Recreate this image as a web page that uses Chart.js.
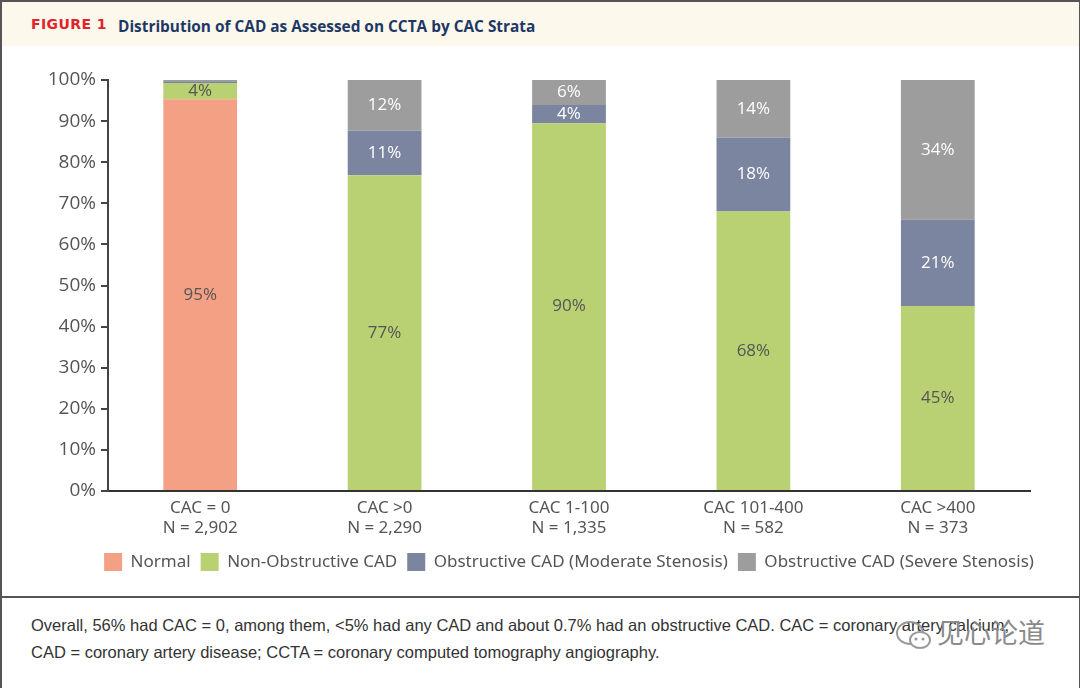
<!DOCTYPE html>
<html>
<head>
<meta charset="utf-8">
<script src="https://cdn.jsdelivr.net/npm/chart.js@4/dist/chart.umd.min.js"></script>
<style>
  html, body { margin: 0; padding: 0; background: #fff; }
  #frame { position: relative; width: 1080px; height: 688px; overflow: hidden; }
  #head {
    position: absolute; left: 0; top: 0; width: 1077px; height: 44px;
    border-top: 2px solid #555; border-left: 2px solid #555; border-right: 2px solid #555;
    background: #fdf8ec;
  }
  #head .fig { position: absolute; left: 29px; top: 14px; font: bold 14px "DejaVu Sans", sans-serif; letter-spacing: 0.4px; color: #e2232b; }
  #head .title { position: absolute; left: 116px; top: 14px; font: bold 15.4px "Open Sans", sans-serif; color: #1d3866; }
  #plot {
    position: absolute; left: 0; top: 46px; width: 1077px; height: 550px;
    border-left: 2px solid #555; border-right: 2px solid #555; border-bottom: 2px solid #555;
  }
  #caption {
    position: absolute; left: 0; top: 598px; width: 1077px; height: 100px;
    border-left: 2px solid #555; border-right: 2px solid #555;
    font: 16.5px "Liberation Sans", sans-serif; color: #333; line-height: 27px;
  }
  #caption p { margin: 14px 0 0 29px; }
  #mark { position: absolute; left: 895px; top: 612px; color: #8a8a8a; font: 27px "Noto Sans CJK SC", sans-serif; }
  #mark svg { vertical-align: middle; margin-right: 4px; }
</style>
</head>
<body>
<div id="frame">
  <div id="head">
    <span class="fig">FIGURE 1</span>
    <span class="title">Distribution of CAD as Assessed on CCTA by CAC Strata</span>
  </div>
  <div id="plot"><canvas id="chart" width="1077" height="550"></canvas></div>
  <div id="caption">
    <p>Overall, 56% had CAC = 0, among them, &lt;5% had any CAD and about 0.7% had an obstructive CAD. CAC = coronary artery calcium;<br>
    CAD = coronary artery disease; CCTA = coronary computed tomography angiography.</p>
  </div>
  <div id="mark">
    <svg width="38" height="34" viewBox="0 0 38 34"><ellipse cx="15" cy="14" rx="13" ry="11" fill="none" stroke="#999" stroke-width="2"/><ellipse cx="25" cy="21" rx="10" ry="8" fill="#fff" stroke="#999" stroke-width="2"/><circle cx="21" cy="20" r="1.5" fill="#999"/><circle cx="28" cy="20" r="1.5" fill="#999"/></svg>见心论道
  </div>
</div>
<script>
document.addEventListener('DOMContentLoaded', () => {
    // categories and series (percent of each CAC stratum)
    const categories = [['CAC = 0', 'N = 2,902'], ['CAC >0', 'N = 2,290'], ['CAC 1-100', 'N = 1,335'], ['CAC 101-400', 'N = 582'], ['CAC >400', 'N = 373']];
    const normal = [95.3, 0, 0, 0, 0];
    const nonObstructive = [4.0, 76.8, 89.5, 68, 45];
    const moderate = [0.4, 10.9, 4.4, 18, 21];
    const severe = [0.3, 12.3, 6.1, 14, 34];
    const yTicks = [0, 10, 20, 30, 40, 50, 60, 70, 80, 90, 100];

    const seriesNames = ['Normal', 'Non-Obstructive CAD', 'Obstructive CAD (Moderate Stenosis)', 'Obstructive CAD (Severe Stenosis)'];
    const seriesColors = ['#f3a084', '#b9d073', '#7c859f', '#9d9d9d'];
    const labelColors = ['#555', '#555', '#fff', '#fff'];

    const barLabels = {
        id: 'barLabels',
        afterDatasetsDraw(chart) {
            const ctx = chart.ctx;
            ctx.save();
            ctx.font = '17px "Open Sans", sans-serif';
            ctx.textAlign = 'center';
            ctx.textBaseline = 'middle';
            chart.data.datasets.forEach((ds, i) => {
                const meta = chart.getDatasetMeta(i);
                meta.data.forEach((bar, j) => {
                    const v = ds.data[j];
                    if (v < 3) return;
                    const mid = (bar.y + bar.base) / 2;
                    ctx.fillStyle = labelColors[i];
                    ctx.fillText(Math.round(v) + '%', bar.x, mid);
                });
            });
            ctx.restore();
        }
    };

    // legend sits centred under the plot area, not the whole canvas
    const centerLegend = {
        id: 'centerLegend',
        afterLayout(chart) {
            const l = chart.legend;
            const dx = (chart.chartArea.left + chart.chartArea.right) / 2 - (l.left + l.right) / 2;
            l.left += dx;
            l.right += dx;
        }
    };

    new Chart(document.getElementById('chart'), {
        type: 'bar',
        data: {
            labels: categories,
            datasets: [normal, nonObstructive, moderate, severe].map((d, i) => ({
                label: seriesNames[i], data: d, backgroundColor: seriesColors[i],
                barPercentage: 0.4, categoryPercentage: 1
            }))
        },
        options: {
            responsive: false,
            animation: false,
            layout: { padding: { left: 0, right: 49, top: 34, bottom: 15 } },
            plugins: {
                legend: {
                    position: 'bottom',
                    labels: { boxWidth: 18, boxHeight: 18, padding: 10, color: '#555', font: { size: 17, family: '"Noto Sans", sans-serif' } }
                },
                tooltip: { enabled: false }
            },
            scales: {
                x: {
                    stacked: true,
                    afterFit: axis => { axis.height = 52; },
                    grid: { display: false, tickLength: 0 },
                    border: { color: '#333', width: 2 },
                    ticks: { color: '#555', font: { size: 17, family: '"Noto Sans", sans-serif' }, padding: 7 }
                },
                y: {
                    stacked: true, min: 0, max: 100,
                    afterBuildTicks: axis => { axis.ticks = yTicks.map(v => ({ value: v })); },
                    afterFit: axis => { axis.width = 106; },
                    grid: { drawOnChartArea: false, color: '#444', lineWidth: 2, tickLength: 7 },
                    border: { color: '#444', width: 2 },
                    ticks: { color: '#555', font: { size: 19, family: '"Open Sans", sans-serif' }, padding: 5, callback: v => v + '%' }
                }
            }
        },
        plugins: [barLabels, centerLegend]
    });
});
</script>
</body>
</html>
